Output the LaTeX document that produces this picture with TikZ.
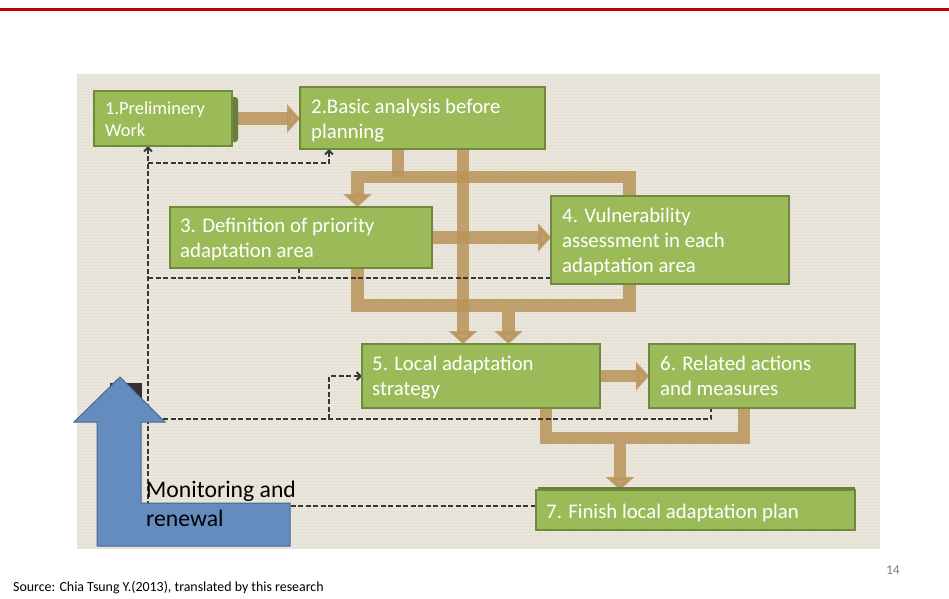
\documentclass[tikz,border=0pt]{standalone}
\usepackage{fontspec}
\setmainfont{Carlito}
\usetikzlibrary{arrows.meta}
\definecolor{slideRed}{RGB}{192,0,0}
\definecolor{linen}{RGB}{233,228,217}
\definecolor{linenDark}{RGB}{150,135,110}
\definecolor{boxGreen}{RGB}{155,187,89}
\definecolor{boxEdge}{RGB}{113,137,63}
\definecolor{boxShade}{RGB}{104,126,58}
\definecolor{pipeTan}{RGB}{185,148,90}
\definecolor{flowBlue}{RGB}{101,140,190}
\definecolor{flowBlueEdge}{RGB}{72,104,150}
\definecolor{dashGray}{RGB}{55,55,55}
\definecolor{pageGray}{RGB}{128,128,128}
\begin{document}
\begin{tikzpicture}[x=1pt,y=-1pt,
  box/.style={draw=boxEdge, line width=2pt, fill=boxGreen, inner sep=0pt, outer sep=0pt},
  boxtext/.style={anchor=base west, text=white, align=left, inner sep=0pt,
                  font=\fontsize{20.8}{25}\selectfont},
  pipe/.style={draw=pipeTan, line width=12.5pt, opacity=0.85, line join=miter},
  pipehead/.style={-{Triangle[width=28pt,length=13pt]}},
  feedback/.style={draw=dashGray, line width=2pt, dash pattern=on 5pt off 2.5pt},
  fbhead/.style={-{Straight Barb[length=4pt,width=8pt]}},
]
\useasboundingbox (0,0) rectangle (949,598);
\fill[white] (0,0) rectangle (949,598);

% header rule
\fill[slideRed] (0,8) rectangle (949,11);

% linen panel
\fill[linen] (77,74) rectangle (880,549);
\foreach \x in {78,81,...,879}
  \draw[white, opacity=0.15, line width=0.8pt] (\x,74) -- (\x,549);
\foreach \y in {76,79,...,548}
  \draw[linenDark, opacity=0.05, line width=0.8pt] (77,\y) -- (880,\y);

% process boxes (positions)
\path
  node[box, minimum width=138, minimum height=55] (b1) at (163,118.5) {}
  node[box, minimum width=245, minimum height=62] (b2) at (422.5,118) {}
  node[box, minimum width=262, minimum height=61] (b3) at (301,237.5) {}
  node[box, minimum width=238, minimum height=88] (b4) at (670,240) {}
  node[box, minimum width=238, minimum height=64] (b5) at (481,376) {}
  node[box, minimum width=206, minimum height=64] (b6) at (752,376) {}
  node[box, minimum width=319, minimum height=40] (b7) at (695.5,510) {};

% junction points of the main flow
\coordinate (j1) at (398,177);
\coordinate (j2) at (463,177);
\coordinate (j3) at (508.5,312);
\coordinate (fTL) at (357.5,177);
\coordinate (fTR) at (629.5,177);
\coordinate (fBL) at (357.5,305.5);
\coordinate (fBR) at (629.5,305.5);
\coordinate (k1) at (546,438);
\coordinate (k2) at (744,438);
\coordinate (k3) at (620,444);

% main flow (wide tan pipes)
\draw[pipe, pipehead] (b1.east) -- (b1.east -| b2.west);
\draw[pipe] (b2.south -| j1) -- (j1);
\draw[pipe, pipehead] (fTL |- b3.south) -- (fBL) -- (fBR) -- (fTR) -- (fTL) -- (fTL |- b3.north);
\draw[pipe, pipehead] (b2.south -| j2) -- (b5.north -| j2);
\draw[pipe, pipehead] (j3) -- (b5.north -| j3);
\draw[pipe, pipehead] (b3.east) -- (b3.east -| b4.west);
\draw[pipe, pipehead] (b5.east) -- (b5.east -| b6.west);
\draw[pipe] (b5.south -| k1) -- (k1) -- (k2) -- (b6.south -| k2);
\draw[pipe, pipehead] (k3) -- (b7.north -| k3);

% feedback loops (dashed)
\coordinate (dv) at (148,506);
\coordinate (d2a) at (148,163);
\coordinate (d2b) at (329,163);
\coordinate (d3a) at (148,278);
\coordinate (d3t) at (299,278);
\coordinate (d4a) at (148,419);
\coordinate (d4b) at (711,419);
\coordinate (d5a) at (329,419);
\coordinate (d5b) at (329,376);
\draw[feedback, fbhead] (dv) -- (dv |- b1.south);
\draw[feedback] (dv) -- (dv -| b7.west);
\draw[feedback, fbhead] (d2a) -- (d2b) -- (d2b |- b2.south);
\draw[feedback] (d3a) -- (d3a -| b4.west);
\draw[feedback] (b3.south -| d3t) -- (d3t);
\draw[feedback] (d4a) -- (d4b) -- (d4b |- b6.south);
\draw[feedback, fbhead] (d5a) -- (d5b) -- (d5b -| b5.west);

% box shading
\fill[boxShade, rounded corners=3pt] (222,97) rectangle (238,142);
\fill[boxShade] (538,487) rectangle (855,495);

% redraw boxes on top
\foreach \b in {b1,b2,b3,b4,b5,b6,b7}
  \path[box] (\b.north west) rectangle (\b.south east);

% box labels (anchored at the baseline of the last line)
\node[boxtext, font=\fontsize{18.4}{22}\selectfont] (l1) at (105,136) {1.Preliminery\\Work};
\node[boxtext] (l2) at (311,138) {2.Basic analysis before\\planning};
\node[boxtext] (l3) at (180,257) {3. Definition of priority\\adaptation area};
\node[boxtext] (l4) at (562,272) {4. Vulnerability\\assessment in each\\adaptation area};
\node[boxtext] (l5) at (372,395) {5. Local adaptation\\strategy};
\node[boxtext] (l6) at (660,395) {6. Related actions\\and measures};
\node[boxtext] (l7) at (546,518) {7. Finish local adaptation plan};

% monitoring arrow
\fill[black!80] (110,383) rectangle (142,410);
\filldraw[fill=flowBlue, draw=flowBlueEdge, line width=1pt]
  (120,377) -- (165,422) -- (141,422) -- (141,503) -- (290,503) -- (290,546)
  -- (97,546) -- (97,422) -- (74,422) -- cycle;
\node[anchor=base west, align=left, inner sep=0pt, font=\fontsize{23.7}{29}\selectfont]
  (mon) at (146,526) {Monitoring and\\renewal};

% footer
\node[anchor=base west, inner sep=0pt, font=\fontsize{13.9}{16}\selectfont]
  (src) at (13,591) {Source: Chia Tsung Y.(2013), translated by this research};
\node[anchor=base east, inner sep=0pt, text=pageGray, font=\fontsize{13.5}{16}\selectfont]
  (pg) at (900,574) {14};
\end{tikzpicture}
\end{document}
